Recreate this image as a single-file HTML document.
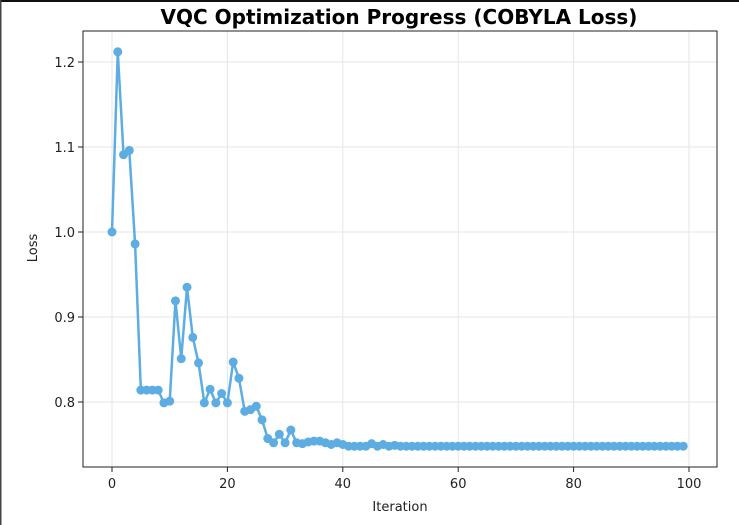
<!DOCTYPE html>
<html><head><meta charset="utf-8"><style>
html,body{margin:0;padding:0;background:#fff;}
svg{display:block;font-family:"DejaVu Sans","Liberation Sans",sans-serif;}
</style></head><body>
<svg id="chart" width="739" height="525" viewBox="0 0 739 525" xmlns="http://www.w3.org/2000/svg">
<rect x="0" y="0" width="739" height="2" fill="#111"/>
<rect x="0" y="0" width="1.5" height="525" fill="#444"/>
<text x="399" y="24" text-anchor="middle" font-size="20" font-weight="bold" fill="#000">VQC Optimization Progress (COBYLA Loss)</text>
<g id="grid"></g>
<g id="series"></g>
<rect x="83" y="31" width="634" height="436" fill="none" stroke="#222" stroke-width="1"/>
<g id="axes"></g>
<text x="400" y="511" text-anchor="middle" font-size="13" fill="#222">Iteration</text>
<text transform="translate(37,248) rotate(-90)" text-anchor="middle" font-size="13" fill="#222">Loss</text>
</svg>
<script>
const lossValues=[1.0,1.212,1.091,1.096,0.986,0.814,0.814,0.814,0.814,0.799,0.801,0.919,0.851,0.935,0.876,0.846,0.799,0.815,0.799,0.810,0.799,0.847,0.828,0.789,0.791,0.795,0.779,0.757,0.752,0.762,0.752,0.767,0.752,0.751,0.753,0.754,0.754,0.752,0.750,0.752,0.750,0.748,0.748,0.748,0.748,0.751,0.748,0.750,0.748,0.749,0.748,0.748,0.748,0.748,0.748,0.748,0.748,0.748,0.748,0.748,0.748,0.748,0.748,0.748,0.748,0.748,0.748,0.748,0.748,0.748,0.748,0.748,0.748,0.748,0.748,0.748,0.748,0.748,0.748,0.748,0.748,0.748,0.748,0.748,0.748,0.748,0.748,0.748,0.748,0.748,0.748,0.748,0.748,0.748,0.748,0.748,0.748,0.748,0.748,0.748];
const xTicks=[0,20,40,60,80,100];
const yTicks=[0.8,0.9,1.0,1.1,1.2];
const NS="http://www.w3.org/2000/svg";
function xs(v){return 112+v*5.77;}
function ys(v){return 232-(v-1.0)*850;}
function mk(t,a,p){const e=document.createElementNS(NS,t);for(const k in a)e.setAttribute(k,a[k]);p.appendChild(e);return e;}
const grid=document.getElementById('grid'),axes=document.getElementById('axes'),ser=document.getElementById('series');
xTicks.forEach(t=>{const x=xs(t);
 const g=mk('line',{x1:x,x2:x,y1:31,y2:467,stroke:'#e6e6e6','stroke-width':1},grid);
 
 
 mk('line',{x1:x,x2:x,y1:467,y2:472,stroke:'#222'},axes);
 const l=mk('text',{x:x,y:488,'text-anchor':'middle','font-size':13,fill:'#222'},axes);l.textContent=t;
 
 
});
yTicks.forEach(t=>{const y=ys(t);
 const g=mk('line',{x1:83,x2:717,y1:y,y2:y,stroke:'#e6e6e6','stroke-width':1},grid);
 
 
 mk('line',{x1:78,x2:83,y1:y,y2:y,stroke:'#222'},axes);
 const l=mk('text',{x:75,y:y+5,'text-anchor':'end','font-size':13,fill:'#222'},axes);l.textContent=t.toFixed(1);
 
 
});
const pts=lossValues.map((v,i)=>xs(i)+','+ys(v)).join(' ');
const pl=mk('polyline',{points:pts,fill:'none',stroke:'#5dade2','stroke-width':2.5,'stroke-linejoin':'round'},ser);


lossValues.forEach((v,i)=>{const c=mk('circle',{cx:xs(i),cy:ys(v),r:4.5,fill:'#5dade2'},ser);
 
 
});
</script>
</body></html>
